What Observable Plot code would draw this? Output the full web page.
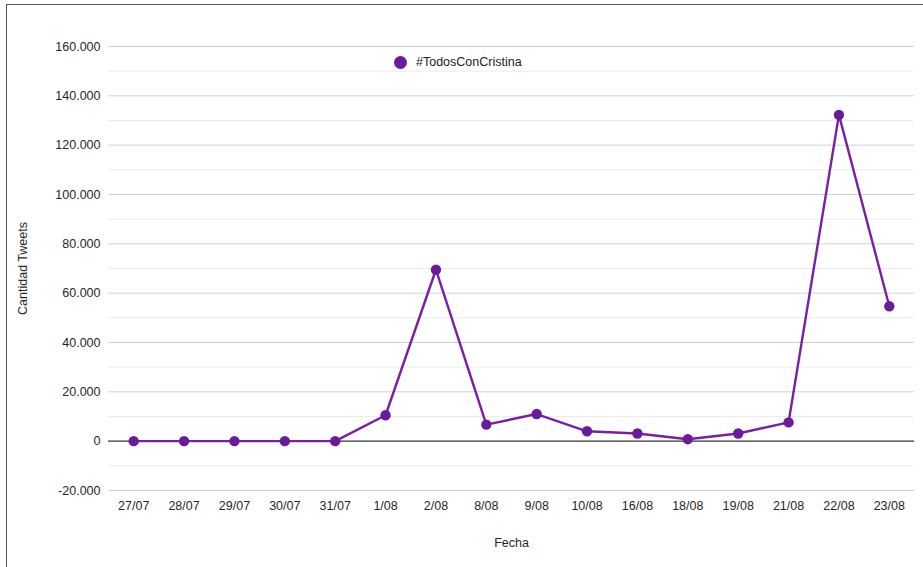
<!DOCTYPE html>
<html><head><meta charset="utf-8">
<script src="https://cdn.jsdelivr.net/npm/d3@7"></script>
<script src="https://cdn.jsdelivr.net/npm/@observablehq/plot@0.6"></script>
<style>
body{margin:0;background:#fff;font-family:"Liberation Sans",Arial,sans-serif;}
#wrap{position:relative;width:923px;height:567px;overflow:hidden;}
#border{position:absolute;left:6px;top:4px;width:940px;height:600px;border:1px solid #555;box-sizing:border-box;}
#legend{position:absolute;left:394px;top:55px;font-size:12.5px;color:#222;display:flex;align-items:center;}
#legend span.dot{display:inline-block;width:13px;height:13px;border-radius:50%;background:#6a1b9a;margin-right:9px;}
</style></head>
<body><div id="wrap"><div id="border"></div><div id="chart"></div><div id="legend"><span class="dot"></span>#TodosConCristina</div></div>
<script>
const fechas = ["27/07","28/07","29/07","30/07","31/07","1/08","2/08","8/08","9/08","10/08","16/08","18/08","19/08","21/08","22/08","23/08"];
const tweets = [0,0,0,0,0,10500,69500,6700,11000,4000,3100,800,3100,7600,132300,54700];
const yTicks = [-20000,0,20000,40000,60000,80000,100000,120000,140000,160000];
const yMinor = [-10000,10000,30000,50000,70000,90000,110000,130000,150000];

const data = fechas.map((f,i)=>({fecha:f, n:tweets[i]}));
const loc = d3.formatLocale({decimal:",", thousands:".", grouping:[3], currency:["$",""], minus:"-"});
const fmt = loc.format(",d");

const chart = Plot.plot({
  width:923, height:567,
  marginLeft:108, marginRight:9, marginTop:46, marginBottom:77,
  style:{fontFamily:"Liberation Sans, Arial, sans-serif", fontSize:"12px", color:"#1e2a1e", background:"transparent"},
  x:{type:"point", domain:fechas, padding:0.5, round:false},
  y:{domain:[-20000,160000]},
  marks:[
    Plot.ruleY(yMinor,{stroke:"#ebebeb", strokeWidth:1}),
    Plot.ruleY(yTicks.filter(d=>d!==0),{stroke:"#d0d0d0", strokeWidth:1}),
    Plot.ruleY([0],{stroke:"#333", strokeWidth:1.2}),
    Plot.axisY(yTicks,{tickSize:0, tickPadding:8, tickFormat:fmt, fontSize:12.5, label:"Cantidad Tweets", labelAnchor:"center", labelArrow:"none", labelOffset:90}),
    Plot.axisX({tickSize:0, tickPadding:11, fontSize:12.5, label:"Fecha", labelAnchor:"center", labelArrow:"none", labelOffset:56}),
    Plot.lineY(data,{x:"fecha", y:"n", stroke:"#7b1fa2", strokeWidth:2.4}),
    Plot.dot(data,{x:"fecha", y:"n", fill:"#6a1b9a", r:5.2})
  ]
});
document.getElementById("chart").appendChild(chart);
</script></body></html>
